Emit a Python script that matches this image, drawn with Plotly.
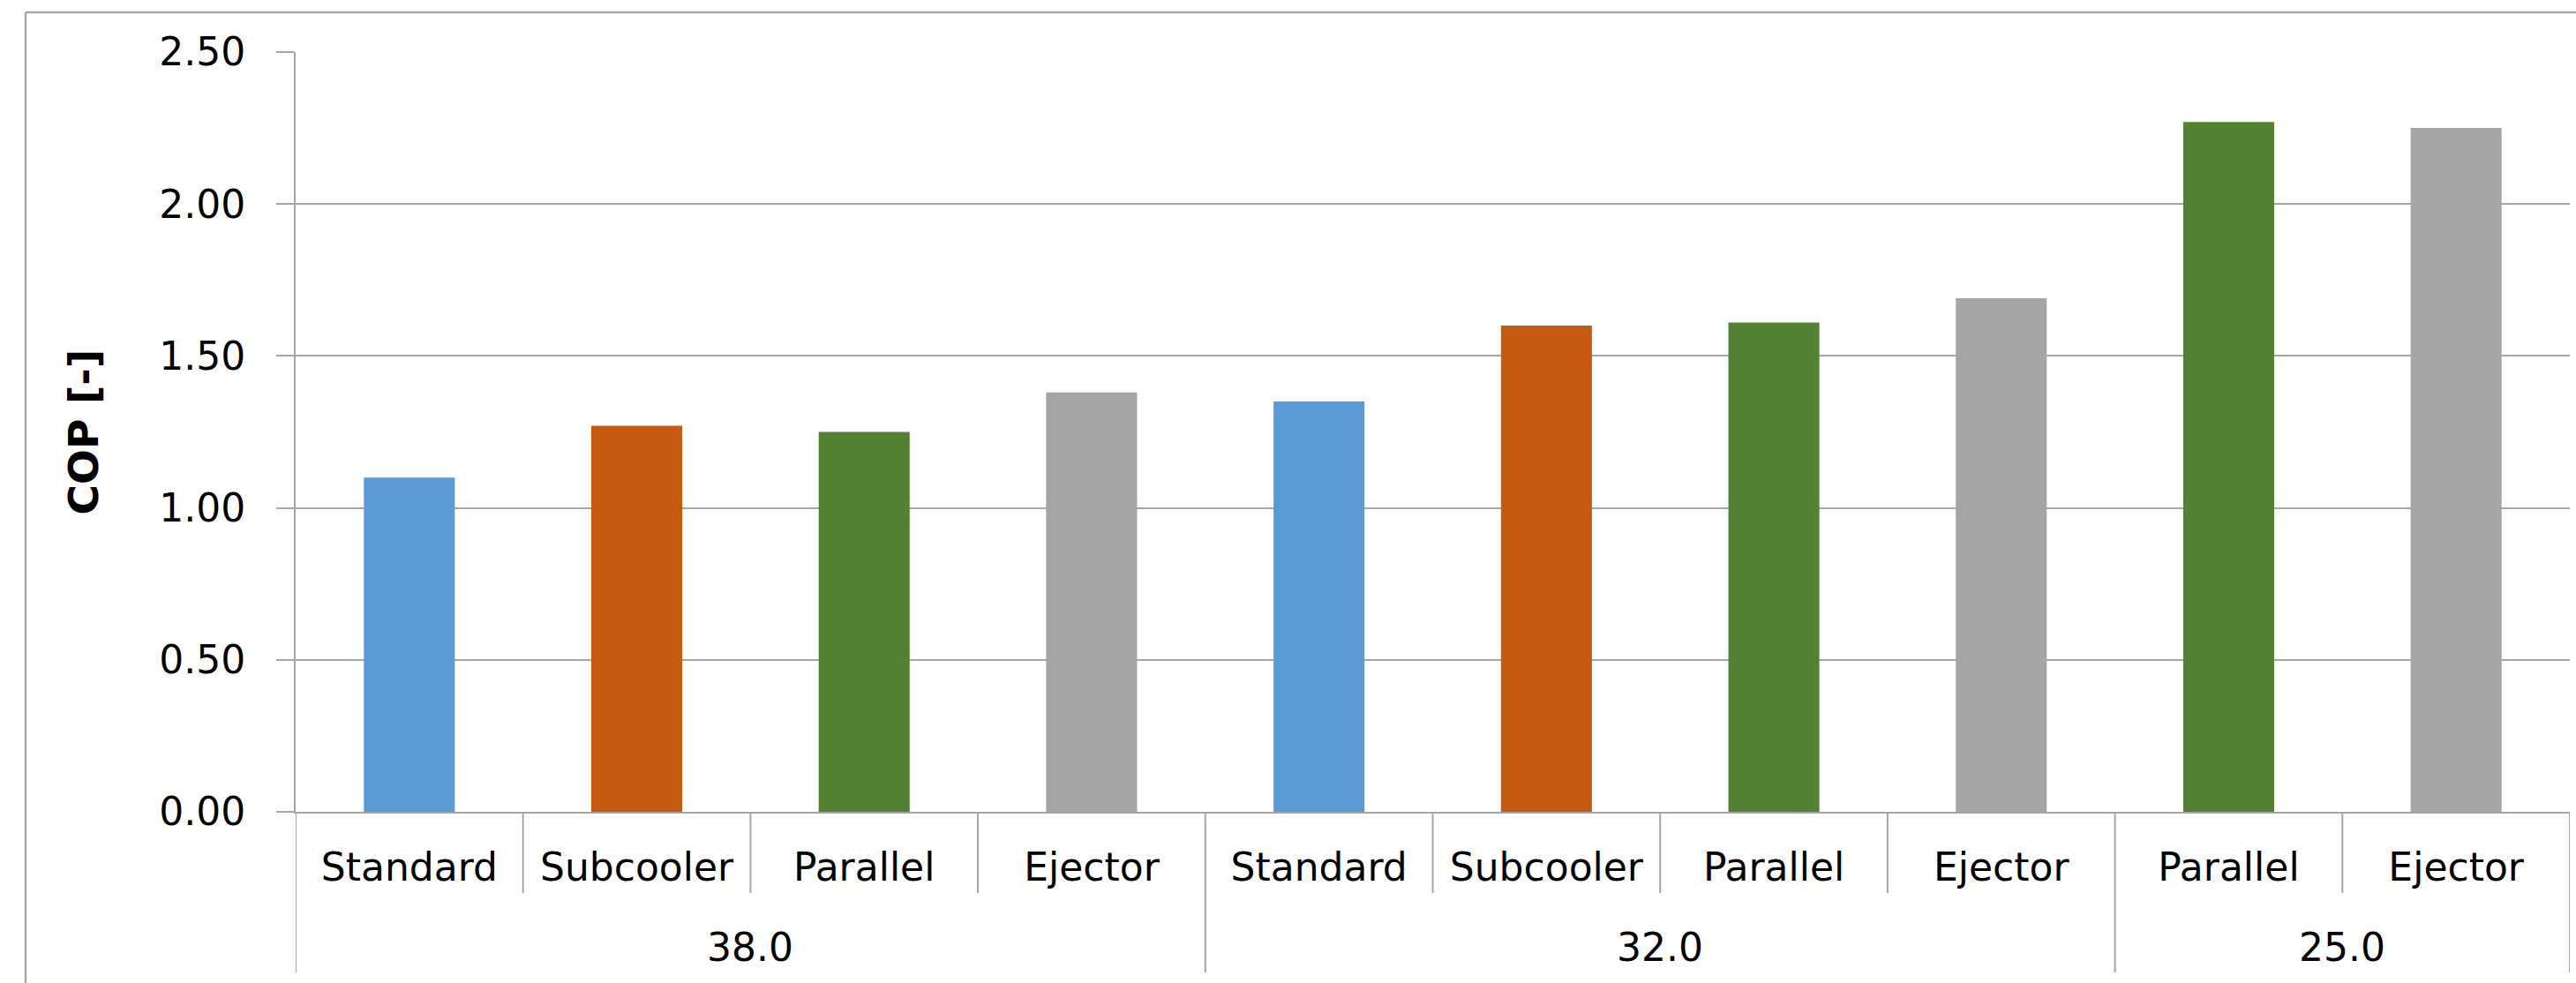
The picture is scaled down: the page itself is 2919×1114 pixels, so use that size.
import plotly.graph_objects as go

# Condensing temperature groups and system configurations
temps = ["38.0", "38.0", "38.0", "38.0", "32.0", "32.0", "32.0", "32.0", "25.0", "25.0"]
configs = ["Standard", "Subcooler", "Parallel", "Ejector",
           "Standard", "Subcooler", "Parallel", "Ejector",
           "Parallel", "Ejector"]
cop = [1.10, 1.27, 1.25, 1.38, 1.35, 1.60, 1.61, 1.69, 2.27, 2.25]

config_colors = {
    "Standard": "#5B9BD5",
    "Subcooler": "#C55A11",
    "Parallel": "#548235",
    "Ejector": "#A5A5A5",
}
y_ticks = [0.0, 0.5, 1.0, 1.5, 2.0, 2.5]

GRAY = "#A6A6A6"
W, H = 2919, 1114
ML, MR, MT, MB = 335, 7, 59, 194
plot_w = W - ML - MR
plot_h = H - MT - MB

LABEL_FONT = dict(family="DejaVu Sans", size=44, color="black")

# One slot per bar along a numeric axis
pos = list(range(len(configs)))

fig = go.Figure(
    go.Bar(
        x=pos,
        y=cop,
        width=0.4,
        marker=dict(color=[config_colors[c] for c in configs], line=dict(width=0)),
        showlegend=False,
        hovertext=[f"{t} / {c}" for t, c in zip(temps, configs)],
    )
)

fig.update_layout(
    width=W,
    height=H,
    margin=dict(l=ML, r=MR, t=MT, b=MB, autoexpand=False),
    paper_bgcolor="white",
    plot_bgcolor="white",
    font=dict(family="DejaVu Sans", color="black"),
)

fig.update_yaxes(
    range=[0, 2.5],
    tickvals=y_ticks,
    tickformat=".2f",
    tickfont=LABEL_FONT,
    showgrid=True,
    gridcolor=GRAY,
    gridwidth=2,
    zeroline=False,
    showline=True,
    linecolor=GRAY,
    linewidth=2,
    ticks="outside",
    ticklen=20,
    tickwidth=2,
    tickcolor=GRAY,
    ticklabelstandoff=26,
    title=dict(text="<b>COP [-]</b>",
               font=dict(family="DejaVu Sans", size=47, color="black"),
               standoff=54),
    automargin=False,
)

fig.update_xaxes(
    range=[-0.5, len(pos) - 0.5],
    tickvals=pos,
    ticktext=configs,
    tickfont=LABEL_FONT,
    ticks="",
    ticklabelstandoff=23,
    showgrid=False,
    zeroline=False,
    showline=True,
    linecolor=GRAY,
    linewidth=2,
    automargin=False,
)

# Category boundary ticks below the axis, longer dividers between temperature groups
inner_len = 92 / plot_h
group_len = 182 / plot_h
for i in range(len(pos) + 1):
    edge = i == 0 or i == len(pos) or temps[i] != temps[i - 1]
    fig.add_shape(type="line", xref="x", yref="paper",
                  x0=i - 0.5, x1=i - 0.5, y0=0, y1=-(group_len if edge else inner_len),
                  line=dict(color=GRAY, width=2))

# Temperature group labels centred under their bars
groups = []
for t in temps:
    if t not in groups:
        groups.append(t)
for g in groups:
    idx = [p for p, t in zip(pos, temps) if t == g]
    fig.add_annotation(x=sum(idx) / len(idx), y=-(1073 - (H - MB)) / plot_h,
                       xref="x", yref="paper", text=g, showarrow=False,
                       font=LABEL_FONT, xanchor="center", yanchor="middle")

# Chart-area border (left and top edges)
bx = (29 - ML) / plot_w
by = (H - MB - 14) / plot_h
fig.add_shape(type="line", xref="paper", yref="paper",
              x0=bx, x1=bx, y0=-0.5, y1=by, line=dict(color=GRAY, width=2.5))
fig.add_shape(type="line", xref="paper", yref="paper",
              x0=bx, x1=1.05, y0=by, y1=by, line=dict(color=GRAY, width=2.5))

fig.write_html("out.html")
